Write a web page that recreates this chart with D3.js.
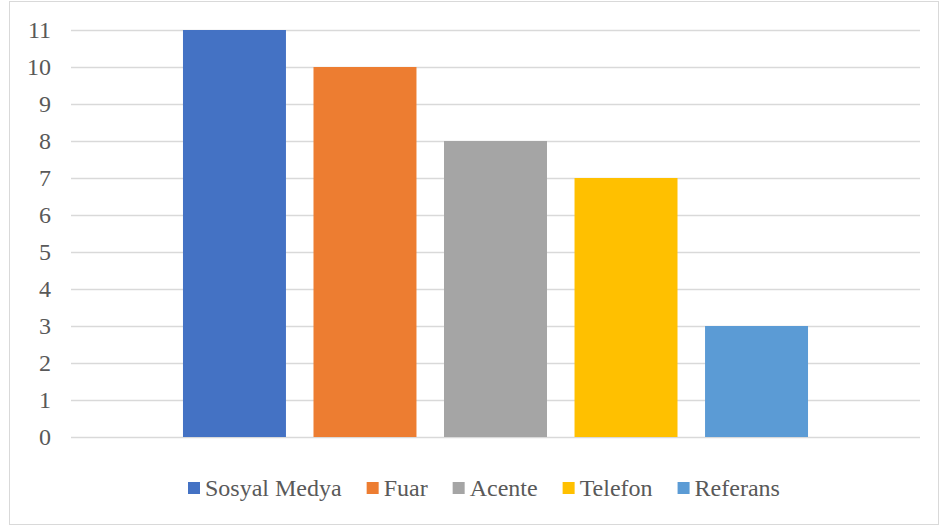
<!DOCTYPE html>
<html>
<head>
<meta charset="utf-8">
<script src="https://cdn.jsdelivr.net/npm/d3@7"></script>
</head>
<body style="margin:0;background:#fff">
<svg id="chart" width="941" height="526" style="display:block"></svg>
<script>
// Source channels and their counts
const categories = ["Sosyal Medya", "Fuar", "Acente", "Telefon", "Referans"];
const values = [11, 10, 8, 7, 3];
const colors = ["#4472C4", "#ED7D31", "#A5A5A5", "#FFC000", "#5B9BD5"];
const yTicks = [0, 1, 2, 3, 4, 5, 6, 7, 8, 9, 10, 11];

const FONT = "Liberation Serif";
const TEXT_COLOR = "#595959";

const svg = d3.select("#chart");

// Chart area frame
svg.append("rect")
  .attr("x", 9.5).attr("y", 1.5)
  .attr("width", 929).attr("height", 523)
  .attr("fill", "#fff")
  .attr("stroke", "#D9D9D9").attr("stroke-width", 1);

const plot = { left: 71, right: 920, top: 30, bottom: 437 };

const y = d3.scaleLinear().domain([0, 11]).range([plot.bottom, plot.top]);
const x = d3.scaleBand()
  .domain(categories)
  .range([plot.left, plot.right])
  .paddingInner(0.211)
  .paddingOuter(0.858);

// Horizontal gridlines
yTicks.forEach(t => {
  svg.append("line")
    .attr("x1", plot.left).attr("x2", plot.right)
    .attr("y1", Math.round(y(t)) + 0.5)
    .attr("y2", Math.round(y(t)) + 0.5)
    .attr("stroke", "#D9D9D9").attr("stroke-width", 1.3);
});

// Y axis labels
yTicks.forEach(t => {
  svg.append("text")
    .attr("x", 51)
    .attr("y", y(t))
    .attr("dy", "0.34em")
    .attr("text-anchor", "end")
    .attr("font-family", FONT)
    .style("font-family", FONT)
    .style("font-size", "24px")
    .style("fill", TEXT_COLOR)
    .text(y.tickFormat()(t));
});

// Bars
categories.forEach((c, i) => {
  svg.append("rect")
    .attr("x", x(c))
    .attr("width", x.bandwidth())
    .attr("y", y(values[i]))
    .attr("height", y(0) - y(values[i]))
    .attr("fill", colors[i]);
});

// Legend: measure each label first, then center the row
const labels = categories.map(c => svg.append("text")
  .attr("y", 496)
  .attr("font-family", FONT)
  .style("font-family", FONT)
  .style("font-size", "24px")
  .style("fill", TEXT_COLOR)
  .text(c));
const widths = labels.map(l => l.node().getComputedTextLength());
const markerGap = 17, itemGap = 25;
const totalW = d3.sum(widths) + categories.length * markerGap + (categories.length - 1) * itemGap;
let cursor = Math.round(484 - totalW / 2);
categories.forEach((c, i) => {
  svg.append("rect")
    .attr("x", cursor).attr("y", 482)
    .attr("width", 12).attr("height", 12)
    .attr("fill", colors[i]);
  labels[i].attr("x", cursor + markerGap);
  cursor += markerGap + widths[i] + itemGap;
});
</script>
</body>
</html>
